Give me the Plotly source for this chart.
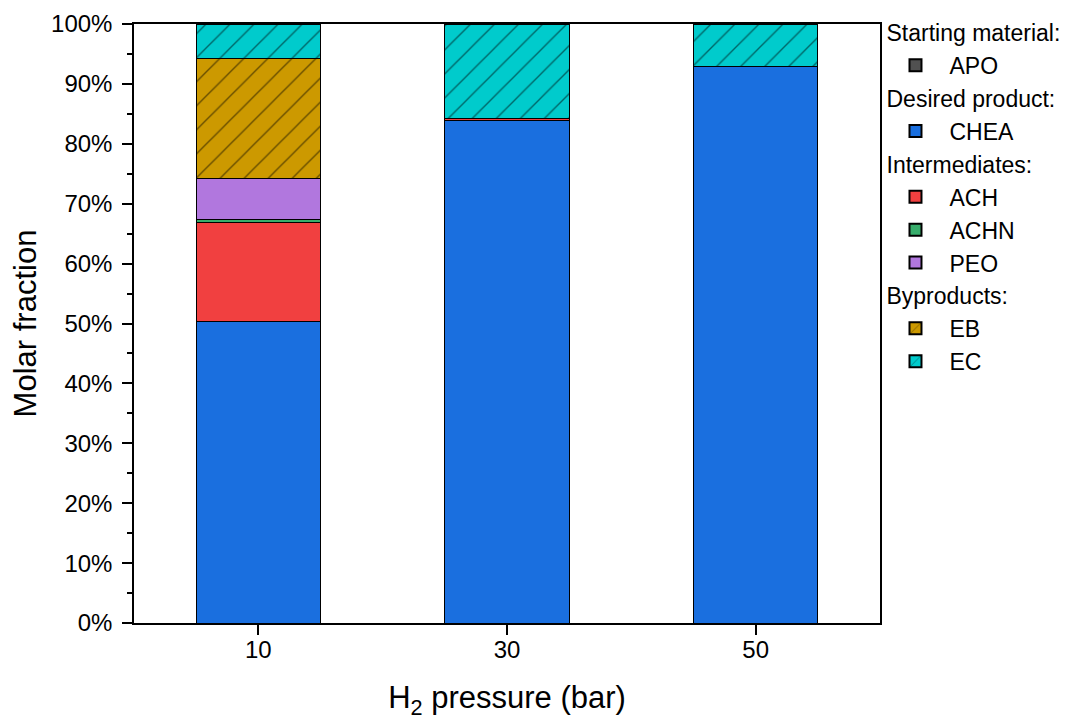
import plotly.graph_objects as go

pressures = [10, 30, 50]
species = ["APO", "CHEA", "ACH", "ACHN", "PEO", "EB", "EC"]
APO = [0.0, 0.0, 0.0]
CHEA = [50.3, 83.9, 92.9]
ACH = [16.6, 0.35, 0.0]
ACHN = [0.5, 0.0, 0.0]
PEO = [6.8, 0.0, 0.0]
EB = [20.1, 0.0, 0.0]
EC = [5.7, 15.75, 7.1]
values = {"APO": APO, "CHEA": CHEA, "ACH": ACH, "ACHN": ACHN, "PEO": PEO, "EB": EB, "EC": EC}
colors = {"APO": "#515151", "CHEA": "#1A6FDF", "ACH": "#F14040", "ACHN": "#37AD6B",
          "PEO": "#B177DE", "EB": "#CC9900", "EC": "#00CBCC"}
groups = {"APO": "Starting material:", "CHEA": "Desired product:", "ACH": "Intermediates:",
          "ACHN": "Intermediates:", "PEO": "Intermediates:", "EB": "Byproducts:", "EC": "Byproducts:"}
hatched = {"EB", "EC"}

LEG = 23
fig = go.Figure()
for s in species:
    marker = dict(color=colors[s], line=dict(color="black", width=1))
    if s in hatched:
        marker["pattern"] = dict(shape="/", fgcolor="black", bgcolor=colors[s], size=17, solidity=0.08)
    fig.add_trace(go.Bar(
        x=pressures, y=values[s], name=s, width=10, marker=marker,
        legendgroup=groups[s], legendgrouptitle=dict(text=groups[s], font=dict(size=LEG, color="black")),
    ))

fig.update_layout(
    barmode="stack",
    width=1072, height=712,
    margin=dict(l=126, r=200, t=16, b=97, autoexpand=False),
    plot_bgcolor="white", paper_bgcolor="white",
    font=dict(family="Liberation Sans, Arial, sans-serif", size=24, color="black"),
    legend=dict(x=1.002, y=1.022, xanchor="left", yanchor="top", traceorder="grouped",
                tracegroupgap=0, font=dict(size=LEG), bgcolor="rgba(0,0,0,0)", itemsizing="constant",
                itemwidth=58, maxheight=1.0),
    xaxis=dict(range=[0, 60], tickvals=pressures, ticktext=[str(p) for p in pressures],
               showline=True, linecolor="black", linewidth=1.5, mirror=True,
               ticks="outside", ticklen=10, tickwidth=1.5, tickcolor="black", showgrid=False,
               zeroline=False, tickfont=dict(size=24), ticklabelstandoff=-6,
               title=dict(text="H<sub>2</sub> pressure (bar)", font=dict(size=31), standoff=26)),
    yaxis=dict(range=[0, 100], dtick=10, ticksuffix="%",
               showline=True, linecolor="black", linewidth=1.5, mirror=True,
               ticks="outside", ticklen=10, tickwidth=1.5, tickcolor="black", showgrid=False,
               zeroline=False, tickfont=dict(size=24), ticklabelstandoff=5,
               minor=dict(dtick=5, ticks="outside", ticklen=5, tickwidth=1.5, tickcolor="black"),
               title=dict(text="Molar fraction", font=dict(size=31), standoff=7)),
)

fig.write_html("out.html")
